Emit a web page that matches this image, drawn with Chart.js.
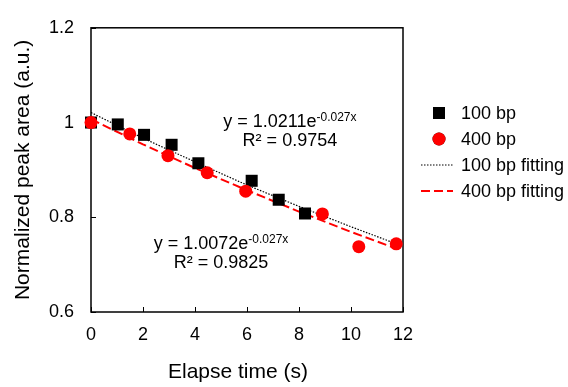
<!DOCTYPE html>
<html>
<head>
<meta charset="utf-8">
<script src="https://cdn.jsdelivr.net/npm/chart.js@4.4.1/dist/chart.umd.min.js"></script>
<style>
  body { margin: 0; background: #fff; }
  canvas { display: block; }
</style>
</head>
<body>
<canvas id="decayChart" width="568" height="387"></canvas>
<script>
const time100 = [0, 1.03, 2.04, 3.1, 4.13, 6.18, 7.22, 8.23];
const area100 = [1.0, 0.996, 0.974, 0.953, 0.914, 0.877, 0.837, 0.808];
const time400 = [0, 1.49, 2.96, 4.47, 5.95, 8.9, 10.3, 11.74];
const area400 = [1.0, 0.976, 0.930, 0.894, 0.855, 0.807, 0.738, 0.744];

// exponential trendlines, sampled along the drawn curves
const fitTime = [0, 2, 4, 6, 8, 10, 11.74];
const fit100 = [1.021, 0.967, 0.917, 0.868, 0.823, 0.780, 0.744];
const fit400 = [1.007, 0.954, 0.904, 0.857, 0.812, 0.769, 0.734];

const xTicks = [0, 2, 4, 6, 8, 10, 12];
const yTicks = [0.6, 0.8, 1.0, 1.2];

const FONT = '"Liberation Sans", Arial, sans-serif';

function pairs(xs, ys) {
  return xs.map((x, i) => ({ x: x, y: ys[i] }));
}

// frame + inward tick marks
const framePlugin = {
  id: 'frame',
  beforeDatasetsDraw(chart) {
    const ctx = chart.ctx;
    const { left, top, right, bottom } = chart.chartArea;
    const xs = chart.scales.x, ys = chart.scales.y;
    ctx.save();
    ctx.strokeStyle = '#000';
    ctx.lineWidth = 1.5;
    ctx.strokeRect(left, top, right - left, bottom - top);
    ctx.beginPath();
    xTicks.forEach(v => {
      const px = Math.round(xs.getPixelForValue(v)) + 0.5;
      ctx.moveTo(px, bottom);
      ctx.lineTo(px, bottom - 5);
    });
    yTicks.forEach(v => {
      const py = Math.round(ys.getPixelForValue(v)) + 0.5;
      ctx.moveTo(left, py);
      ctx.lineTo(left + 5, py);
    });
    ctx.lineWidth = 1;
    ctx.stroke();
    ctx.restore();
  }
};

// trendline equations
const equations = [
  { x: 7.65, y: 1.004, coef: 'y = 1.0211e', exp: '-0.027x', r2: 'R² = 0.9754' },
  { x: 5.0, y: 0.746, coef: 'y = 1.0072e', exp: '-0.027x', r2: 'R² = 0.9825' }
];

const labelPlugin = {
  id: 'labels',
  afterDraw(chart) {
    const ctx = chart.ctx;
    const xs = chart.scales.x, ys = chart.scales.y;
    ctx.save();
    ctx.fillStyle = '#000';
    ctx.textBaseline = 'alphabetic';
    equations.forEach(eq => {
      const cx = xs.getPixelForValue(eq.x);
      const cy = ys.getPixelForValue(eq.y);
      ctx.font = '18px ' + FONT;
      const w1 = ctx.measureText(eq.coef).width;
      ctx.font = '12px ' + FONT;
      const w2 = ctx.measureText(eq.exp).width;
      const start = cx - (w1 + w2) / 2;
      ctx.font = '18px ' + FONT;
      ctx.textAlign = 'left';
      ctx.fillText(eq.coef, start, cy + 6);
      ctx.font = '12px ' + FONT;
      ctx.fillText(eq.exp, start + w1, cy);
      ctx.font = '18px ' + FONT;
      ctx.textAlign = 'center';
      ctx.fillText(eq.r2, cx, cy + 25);
    });

    // x axis title, a little left of the plot centre as in the source
    const { left, right } = chart.chartArea;
    ctx.font = '21px ' + FONT;
    ctx.textAlign = 'center';
    ctx.textBaseline = 'middle';
    ctx.fillText('Elapse time (s)', (left + right) / 2 - 9, 372);

    // legend
    const lx = 421, ly = 113, step = 26;
    chart.data.datasets.forEach((ds, i) => {
      const y = ly + i * step;
      if (ds.showLine) {
        ctx.save();
        ctx.strokeStyle = ds.borderColor;
        ctx.lineWidth = ds.borderWidth;
        ctx.setLineDash(ds.borderDash);
        ctx.beginPath();
        ctx.moveTo(lx, y);
        ctx.lineTo(lx + 32, y);
        ctx.stroke();
        ctx.restore();
      } else {
        Chart.helpers.drawPoint(ctx, {
          pointStyle: ds.pointStyle,
          radius: ds.pointRadius,
          borderWidth: 0
        }, lx + 18, y);
        ctx.fillStyle = ds.backgroundColor;
        ctx.fill();
      }
      ctx.fillStyle = '#000';
      ctx.font = '18px ' + FONT;
      ctx.textAlign = 'left';
      ctx.textBaseline = 'middle';
      ctx.fillText(ds.label, lx + 40, y + 1);
    });
    ctx.restore();
  }
};

document.addEventListener('DOMContentLoaded', function () {
  const ctx = document.getElementById('decayChart').getContext('2d');
  new Chart(ctx, {
    type: 'scatter',
    data: {
      datasets: [
        {
          label: '100 bp',
          data: pairs(time100, area100),
          pointStyle: 'rect',
          pointRadius: 8.5,
          pointBorderWidth: 0,
          backgroundColor: '#000',
          borderColor: '#000',
          showLine: false,
          clip: false,
          order: 1
        },
        {
          label: '400 bp',
          data: pairs(time400, area400),
          pointStyle: 'circle',
          pointRadius: 6.5,
          pointBorderWidth: 0,
          backgroundColor: '#ff0000',
          borderColor: '#ff0000',
          showLine: false,
          clip: false,
          order: 0
        },
        {
          label: '100 bp fitting',
          data: pairs(fitTime, fit100),
          showLine: true,
          pointRadius: 0,
          borderColor: '#000',
          borderWidth: 1.2,
          borderDash: [1.5, 1.5],
          tension: 0,
          clip: false,
          order: 2
        },
        {
          label: '400 bp fitting',
          data: pairs(fitTime, fit400),
          showLine: true,
          pointRadius: 0,
          borderColor: '#ff0000',
          borderWidth: 2,
          borderDash: [9, 4],
          tension: 0,
          clip: false,
          order: 3
        }
      ]
    },
    options: {
      responsive: false,
      animation: false,
      layout: { padding: { top: 25, right: 165, left: 0, bottom: 0 } },
      plugins: {
        legend: { display: false },
        tooltip: { enabled: false }
      },
      scales: {
        x: {
          type: 'linear',
          min: 0,
          max: 12,
          afterFit(scale) { scale.height = 75; },
          afterBuildTicks(scale) { scale.ticks = xTicks.map(v => ({ value: v })); },
          grid: { display: false, drawTicks: false },
          border: { display: false },
          ticks: {
            padding: 12,
            color: '#000',
            font: { family: FONT, size: 18 }
          },
          title: { display: false }
        },
        y: {
          type: 'linear',
          min: 0.6,
          max: 1.2,
          afterFit(scale) { scale.width = 91; },
          afterBuildTicks(scale) { scale.ticks = yTicks.map(v => ({ value: v })); },
          grid: { display: false, drawTicks: false },
          border: { display: false },
          ticks: {
            padding: 17,
            color: '#000',
            font: { family: FONT, size: 18 },
            callback: v => String(Math.round(v * 10) / 10)
          },
          title: {
            display: true,
            text: 'Normalized peak area (a.u.)',
            color: '#000',
            padding: { top: 11, bottom: 0 },
            font: { family: FONT, size: 21 }
          }
        }
      }
    },
    plugins: [framePlugin, labelPlugin]
  });
});
</script>
</body>
</html>
